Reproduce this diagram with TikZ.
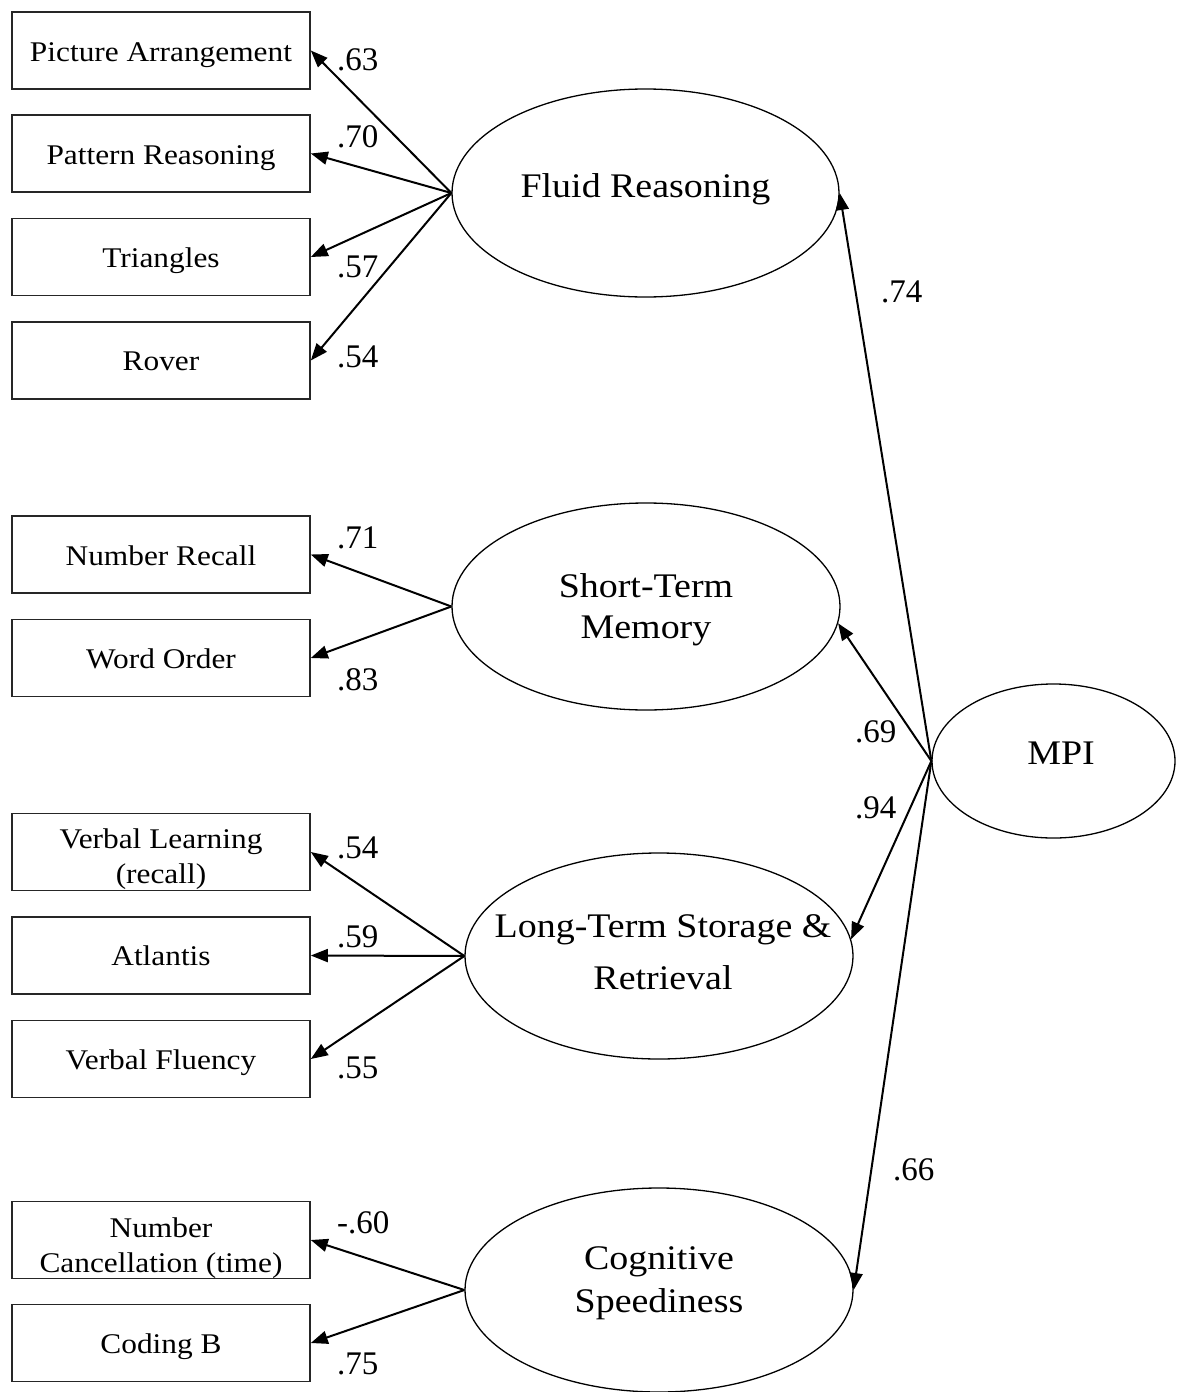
\documentclass[tikz,border=0pt]{standalone}
\usepackage{fontspec}
\setmainfont[FakeStretch=1.1]{Liberation Serif}
\newfontfamily\numfont{Liberation Serif}
\usetikzlibrary{arrows.meta,shapes.geometric}
\begin{document}
\begin{tikzpicture}[x=1pt,y=-1pt,
  box/.style={draw=black!85, line width=1.6pt, minimum width=298pt, minimum height=77pt, inner sep=0pt},
  lat/.style={draw, ellipse, line width=1.3pt, inner sep=0pt},
  btxt/.style={inner sep=0pt, anchor=base, align=center, font=\fontsize{28.5}{35}\selectfont},
  etxt/.style={inner sep=0pt, anchor=base, align=center, font=\fontsize{34.5}{42}\selectfont},
  coef/.style={inner sep=0pt, anchor=base west, font=\numfont\fontsize{33}{38}\selectfont},
  arr/.style={line width=2pt, -{Triangle[length=17pt,width=13pt]}}
]
\useasboundingbox (0,0) rectangle (1176,1392);

% indicator boxes
\node[box] (pa) at (161,50.5) {};
\node[box] (pr) at (161,153.5) {};
\node[box] (tr) at (161,257) {};
\node[box] (ro) at (161,360.5) {};
\node[box] (nr) at (161,554.5) {};
\node[box] (wo) at (161,658) {};
\node[box] (vl) at (161,852) {};
\node[box] (at) at (161,955.5) {};
\node[box] (vf) at (161,1059) {};
\node[box] (nc) at (161,1240) {};
\node[box] (cb) at (161,1343) {};

\node[btxt] (paT) at (161,61) {Picture Arrangement};
\node[btxt] (prT) at (161,164) {Pattern Reasoning};
\node[btxt] (trT) at (161,267) {Triangles};
\node[btxt] (roT) at (161,370) {Rover};
\node[btxt] (nrT) at (161,565) {Number Recall};
\node[btxt] (woT) at (161,668) {Word Order};
\node[btxt] (vlT) at (161,883) {Verbal Learning\\(recall)};
\node[btxt] (atT) at (161,965) {Atlantis};
\node[btxt] (vfT) at (161,1069) {Verbal Fluency};
\node[btxt] (ncT) at (161,1272) {Number\\Cancellation (time)};
\node[btxt] (cbT) at (161,1353) {Coding B};

% latent variables
\node[lat, minimum width=387pt, minimum height=208pt] (fr) at (645.5,193) {};
\node[lat, minimum width=388pt, minimum height=207pt] (stm) at (646,606.5) {};
\node[lat, minimum width=388pt, minimum height=206pt] (lts) at (659,956) {};
\node[lat, minimum width=388pt, minimum height=204pt] (cog) at (659,1290) {};
\node[lat, minimum width=243pt, minimum height=154pt] (mpi) at (1053.5,761) {};

\node[etxt] (frT) at (645.5,197) {Fluid Reasoning};
\node[etxt, font=\fontsize{34.5}{41}\selectfont] (stmT) at (646,638) {Short-Term\\Memory};
\node[etxt, font=\fontsize{34.5}{52}\selectfont] (ltsT) at (663,989) {Long-Term Storage \&\\Retrieval};
\node[etxt, font=\fontsize{34.5}{43}\selectfont] (cogT) at (659,1312) {Cognitive\\Speediness};
\node[etxt] (mpiT) at (1061,764) {MPI};

% loadings
\draw[arr] (fr.west) -- (pa.east);
\draw[arr] (fr.west) -- (pr.east);
\draw[arr] (fr.west) -- (tr.east);
\draw[arr] (fr.west) -- (ro.east);
\draw[arr] (stm.west) -- (nr.east);
\draw[arr] (stm.west) -- (wo.east);
\draw[arr] (lts.west) -- (vl.east);
\draw[arr] (lts.west) -- (at.east);
\draw[arr] (lts.west) -- (vf.east);
\draw[arr] (cog.west) -- (nc.east);
\draw[arr] (cog.west) -- (cb.east);

\draw[arr] (mpi.west) -- (fr.east);
\draw[arr] (mpi.west) -- (stm.-5);
\draw[arr] (mpi.west) -- (lts.5);
\draw[arr] (mpi.west) -- (cog.east);

% coefficients
\node[coef] (c1) at (337,70) {.63};
\node[coef] (c2) at (337,147) {.70};
\node[coef] (c3) at (337,277) {.57};
\node[coef] (c4) at (337,367) {.54};
\node[coef] (c5) at (337,548) {.71};
\node[coef] (c6) at (337,690) {.83};
\node[coef] (c7) at (337,858) {.54};
\node[coef] (c8) at (337,947) {.59};
\node[coef] (c9) at (337,1078) {.55};
\node[coef] (c10) at (337,1233) {-.60};
\node[coef] (c11) at (337,1374) {.75};
\node[coef] (c12) at (881,302) {.74};
\node[coef] (c13) at (855,742) {.69};
\node[coef] (c14) at (855,818) {.94};
\node[coef] (c15) at (893,1180) {.66};
\end{tikzpicture}
\end{document}
